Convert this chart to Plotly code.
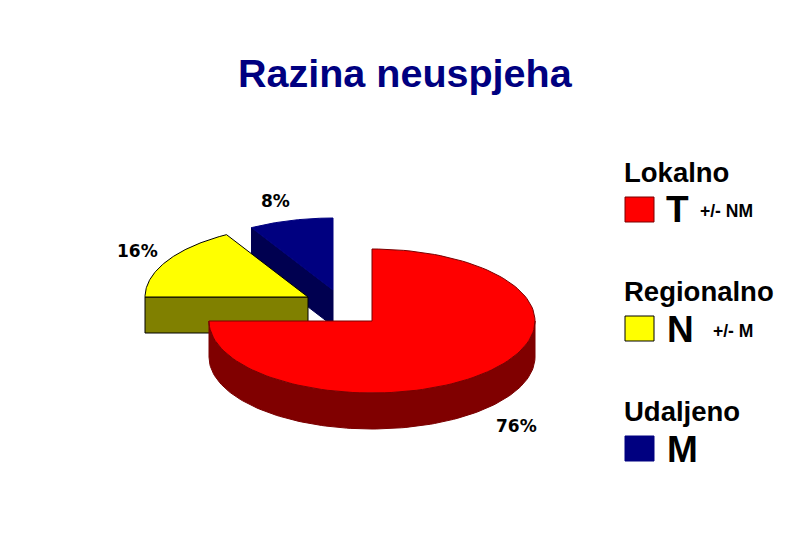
#!/bin/python3

import numpy as np
import plotly.graph_objects as go

# Values
regions = ['Lokalno', 'Regionalno', 'Udaljeno']
letters = ['T', 'N', 'M']
notes = ['+/- NM', '+/- M', '']
percent = [76, 16, 8]
# slices in the picture are not cut quite to the printed percent
sweep_deg = [270, 60, 30]

title = 'Razina neuspjeha'

top_colors = ['#ff0000', '#ffff00', '#000080']
side_colors = ['#800000', '#808000', '#000050']
edge_colors = ['#7a0000', '#000000', '#000080']

# Pie geometry in page pixels
centers = [(372, 321), (308, 297), (333, 290)]
rx = 163
ry = 72
depth = 36
FONT = 'Liberation Sans'


def arc(cx, cy, start, end):
    # angles clockwise from 12 o'clock
    a = np.radians(np.linspace(start, end, 121))
    return cx + rx * np.sin(a), cy - ry * np.cos(a)


def add_poly(fig, x, y, fill, edge, width=1):
    fig.add_trace(go.Scatter(x=list(x) + [x[0]], y=list(y) + [y[0]], mode='lines', fill='toself',
                             fillcolor=fill, line=dict(color=edge, width=width),
                             hoverinfo='skip', showlegend=False))


fig = go.Figure()

# start angle of every slice from the sweeps
starts = np.cumsum([0] + sweep_deg[:-1])

# back to front: blue, yellow, red
for i in [2, 1, 0]:
    cx, cy = centers[i]
    start = float(starts[i])
    end = start + sweep_deg[i]
    ax, ay = arc(cx, cy, start, end)

    if i == 0:
        # rim seen from the front, right side round to the left
        sx, sy = arc(cx, cy, 90, 270)
        add_poly(fig, np.r_[sx, sx[::-1]], np.r_[sy, sy[::-1] + depth], side_colors[i], edge_colors[i])
    else:
        # cut face between the arc start and the centre
        fx = [ax[0], cx, cx, ax[0]]
        fy = [ay[0], cy, cy + depth, ay[0] + depth]
        add_poly(fig, fx, fy, side_colors[i], edge_colors[i] if i == 1 else side_colors[i])

    add_poly(fig, np.r_[cx, ax], np.r_[cy, ay], top_colors[i], edge_colors[i])

# legend swatches
swatch_y = [197, 316, 436]
for i in range(3):
    fig.add_shape(type='rect', x0=625, x1=654, y0=swatch_y[i], y1=swatch_y[i] + 25,
                  fillcolor=top_colors[i], line=dict(color=edge_colors[i], width=1))


def text(x, y, s, size, color='black', anchor='left', bold=True):
    fig.add_annotation(x=x, y=y, text='<b>%s</b>' % s if bold else s, showarrow=False,
                       xanchor=anchor, yanchor='middle', xshift=0,
                       font=dict(family=FONT, size=size, color=color))


text(405, 73, title, 39.5, color='#000080', anchor='center')

name_y = [172, 291, 411]
letter_y = [209, 329, 449]
note_x = [698, 711, 0]
letter_x = [664, 665, 665]
for i in range(3):
    text(622, name_y[i], regions[i], 27.5)
    text(letter_x[i], letter_y[i], letters[i], 37)
    if notes[i]:
        text(note_x[i], 211 if i == 0 else 331, notes[i], 17.5)

pct_pos = [(516, 426), (137, 251), (275, 201)]
for i in range(3):
    fig.add_annotation(x=pct_pos[i][0], y=pct_pos[i][1], text='<b>%d%%</b>' % percent[i], showarrow=False,
                       xanchor='center', yanchor='middle',
                       font=dict(family='DejaVu Sans', size=17, color='black'))

# the page body sits 8px in from the window corner
fig.update_layout(
    width=802, height=532,
    margin=dict(l=0, r=0, t=0, b=0),
    paper_bgcolor='white', plot_bgcolor='white',
    xaxis=dict(range=[8, 810], visible=False, fixedrange=True),
    yaxis=dict(range=[540, 8], visible=False, fixedrange=True),
    showlegend=False,
)

fig.write_html("out.html")
